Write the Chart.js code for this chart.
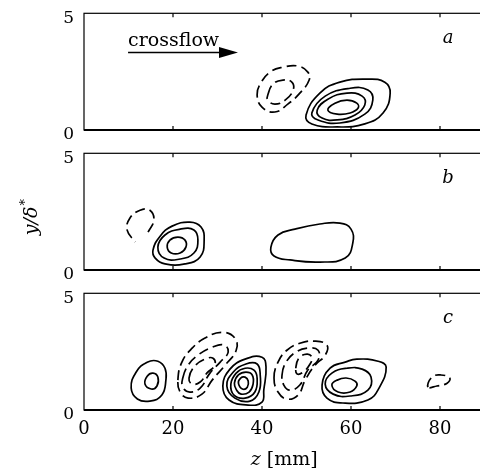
<!DOCTYPE html>
<html>
<head>
<meta charset="utf-8">
<script src="https://cdn.jsdelivr.net/npm/chart.js@4.4.0/dist/chart.umd.min.js"></script>
<style>
html,body{margin:0;padding:0;background:#fff;width:480px;height:475px;overflow:hidden;}
.panel{position:absolute;left:0;}
</style>
</head>
<body>
<div class="panel" style="top:0px"><canvas id="pa" width="500" height="140"></canvas></div>
<div class="panel" style="top:140px"><canvas id="pb" width="500" height="140"></canvas></div>
<div class="panel" style="top:280px"><canvas id="pc" width="500" height="195"></canvas></div>
<script>
// axes
const zTicks = [0, 20, 40, 60, 80];
const zRange = [0, 90];
const yRange = [0, 5];

// contours, [z mm, y/delta*]
// panel a
const aPos1 = [[49.9,0.64],[53.0,1.58],[57.5,2.05],[63.6,2.18],[67.6,2.05],[68.8,1.58],[67.2,0.73],[63.1,0.26],[56.9,0.13],[51.2,0.26]];
const aPos2 = [[51.2,0.73],[54.2,1.45],[59.8,1.79],[63.8,1.71],[64.9,1.28],[63.1,0.68],[57.5,0.30],[52.6,0.43]];
const aPos3 = [[52.4,0.85],[54.8,1.32],[59.1,1.58],[62.5,1.45],[63.1,1.07],[60.9,0.64],[56.9,0.43],[53.5,0.51]];
const aPos4 = [[54.8,0.85],[56.4,1.15],[59.1,1.28],[61.3,1.15],[61.6,0.94],[59.8,0.73],[56.9,0.68]];
const aNeg1 = [[38.9,1.50],[39.6,1.97],[41.8,2.48],[44.7,2.69],[48.1,2.74],[50.3,2.48],[50.6,2.14],[48.5,1.58],[45.8,1.11],[42.9,0.77],[40.0,0.98]];
const aNeg2 = [[41.3,1.50],[42.5,1.97],[44.7,2.14],[46.7,2.05],[47.0,1.71],[45.2,1.28],[42.9,1.11],[41.3,1.28]];
// panel b
const bPos1 = [[15.5,0.85],[17.1,1.45],[19.8,1.88],[23.8,2.05],[26.3,1.84],[27.0,1.28],[26.1,0.56],[22.7,0.26],[18.2,0.26],[16.0,0.51]];
const bPos2 = [[16.6,0.98],[18.2,1.50],[21.6,1.75],[24.7,1.71],[25.6,1.28],[24.7,0.73],[21.6,0.47],[18.0,0.51]];
const bPos3 = [[18.7,0.98],[19.3,1.28],[21.1,1.41],[22.7,1.28],[22.9,0.98],[21.6,0.73],[19.6,0.73]];
const bPos4 = [[42.0,0.98],[43.6,1.50],[47.4,1.75],[53.0,1.97],[57.5,2.01],[60.0,1.75],[60.4,1.15],[58.7,0.51],[53.0,0.34],[46.3,0.43],[42.7,0.60]];
const bNeg1 = [[14.4,1.62],[15.7,2.14],[14.8,2.56],[12.6,2.56],[10.3,2.22],[9.7,1.71],[11.5,1.20]];
// panel c
const cPos1 = [[10.6,0.94],[11.7,1.62],[14.2,2.05],[16.6,2.09],[18.2,1.79],[18.4,1.28],[17.5,0.64],[14.8,0.38],[12.0,0.47]];
const cPos2 = [[13.7,1.11],[14.2,1.45],[15.5,1.58],[16.6,1.41],[16.4,1.03],[15.1,0.90]];
const cPos3 = [[31.2,1.03],[32.8,1.75],[36.2,2.18],[40.0,2.26],[40.9,1.84],[40.4,0.85],[40.0,0.34],[36.9,0.21],[32.6,0.43]];
const cPos4 = [[32.1,1.03],[33.5,1.62],[36.4,1.97],[38.9,1.97],[39.6,1.50],[39.3,0.77],[37.3,0.38],[33.9,0.51]];
const cPos5 = [[33.0,1.11],[34.2,1.58],[36.2,1.79],[38.2,1.71],[38.9,1.37],[38.4,0.77],[36.2,0.51],[33.7,0.64]];
const cPos6 = [[33.8,1.15],[34.7,1.50],[36.4,1.62],[37.8,1.50],[38.0,1.11],[37.1,0.77],[35.3,0.68],[34.3,0.85]];
const cPos7 = [[34.7,1.15],[35.2,1.37],[36.2,1.41],[36.9,1.24],[36.7,0.98],[35.6,0.90]];
const cPos8 = [[53.5,1.07],[55.3,1.79],[58.7,2.05],[61.3,2.18],[66.1,2.09],[67.9,1.84],[66.3,0.94],[63.8,0.43],[58.2,0.30],[54.6,0.51]];
const cPos9 = [[54.2,1.11],[55.7,1.58],[59.1,1.79],[62.5,1.75],[64.5,1.41],[63.8,0.85],[59.8,0.60],[56.0,0.68]];
const cPos10 = [[55.7,1.07],[56.9,1.28],[58.9,1.37],[60.9,1.24],[61.3,1.03],[59.8,0.77],[57.1,0.77]];
const cNeg1 = [[21.1,1.28],[22.0,2.05],[24.3,2.65],[27.2,3.08],[31.0,3.33],[33.9,3.08],[34.2,2.56],[31.7,1.92],[28.8,1.28],[26.5,0.68],[23.4,0.51],[21.6,0.77]];
const cNeg2 = [[22.2,1.37],[23.4,1.92],[25.6,2.35],[28.8,2.69],[31.5,2.78],[32.4,2.48],[30.6,2.05],[28.3,1.58],[26.1,0.94],[23.8,0.77],[22.2,0.98]];
const cNeg3 = [[23.6,1.37],[24.9,1.88],[27.2,2.18],[29.0,2.22],[29.4,1.92],[27.6,1.58],[26.1,1.20],[24.3,1.11]];
const cNeg4 = [[42.7,1.37],[43.6,2.05],[45.6,2.56],[48.5,2.86],[51.9,2.95],[54.6,2.78],[54.2,2.35],[51.9,1.92],[49.7,1.28],[48.1,0.64],[45.6,0.47],[43.6,0.77]];
const cNeg5 = [[44.5,1.50],[45.4,2.05],[47.6,2.48],[50.3,2.65],[52.6,2.56],[52.6,2.14],[50.3,1.71],[48.5,1.07],[46.3,0.85],[44.9,1.07]];
const cNeg6 = [[47.6,1.79],[48.3,2.22],[50.1,2.39],[51.2,2.26],[50.8,1.97],[49.2,1.62],[47.9,1.54]];
const cNeg7 = [[77.3,0.98],[78.2,1.41],[80.2,1.50],[82.2,1.37],[81.6,1.15],[79.3,1.03]];

// text spots, data coords
const letterAt = [81.8, 3.92];
const flowText = [9.9, 3.6];
const flowFrom = [9.9, 3.32];
const flowTo = [34.6, 3.32];

Chart.defaults.font.family = "'DejaVu Serif', serif";
Chart.defaults.color = '#000';

const pts = arr => arr.map(p => ({x: p[0], y: p[1]}));
// closed loop: one extra point at each end so the join is smooth, those two segments hidden
const solid = (arr, open) => {
	const n = arr.length;
	const list = open ? arr : [arr[n - 1]].concat(arr, [arr[0], arr[1]]);
	return {
		data: pts(list),
		borderColor: '#000', borderWidth: 1.7, pointRadius: 0,
		tension: 0.45, showLine: true, fill: false,
		segment: open ? {} : {
			borderColor: c => (c.p0DataIndex === 0 || c.p0DataIndex === n + 1) ? 'rgba(0,0,0,0)' : '#000'
		}
	};
};
const dashed = (arr, open) => Object.assign(solid(arr, open), {borderDash: [10, 5]});

let noPad = s => { s.paddingTop = 0; s.paddingBottom = 0; s.paddingLeft = 0; s.paddingRight = 0; };

let frame = {
	id: 'frame',
	afterDraw(chart) {
		const {ctx, chartArea: a, scales: {x}} = chart;
		ctx.save();
		ctx.strokeStyle = '#000';
		ctx.lineWidth = 1.2;
		ctx.strokeRect(a.left, a.top, a.right - a.left, a.bottom - a.top);
		ctx.lineWidth = 2;
		ctx.beginPath();
		ctx.moveTo(a.left, a.bottom);
		ctx.lineTo(a.right, a.bottom);
		ctx.stroke();
		ctx.lineWidth = 1.2;
		zTicks.forEach(t => {
			if (t === zRange[0]) return;
			const px = x.getPixelForValue(t);
			ctx.beginPath();
			ctx.moveTo(px, a.top); ctx.lineTo(px, a.top + 4);
			ctx.moveTo(px, a.bottom); ctx.lineTo(px, a.bottom - 4);
			ctx.stroke();
		});
		ctx.restore();
	}
};

let annot = (id, letter, extra) => ({
	id: id,
	afterDraw(chart) {
		const {ctx, scales: {x, y}} = chart;
		ctx.save();
		ctx.fillStyle = '#000';
		ctx.strokeStyle = '#000';
		ctx.font = 'italic 18px "DejaVu Serif"';
		ctx.textAlign = 'center';
		ctx.textBaseline = 'middle';
		ctx.fillText(letter, x.getPixelForValue(letterAt[0]), y.getPixelForValue(letterAt[1]));
		if (extra) extra(ctx, x, y, chart);
		ctx.restore();
	}
});

let crossflow = (ctx, x, y) => {
	ctx.font = '19px "DejaVu Serif"';
	ctx.textAlign = 'left';
	ctx.textBaseline = 'alphabetic';
	ctx.fillText('crossflow', x.getPixelForValue(flowText[0]), y.getPixelForValue(flowText[1]));
	const x0 = x.getPixelForValue(flowFrom[0]);
	const x1 = x.getPixelForValue(flowTo[0]);
	const yy = y.getPixelForValue(flowFrom[1]);
	ctx.lineWidth = 1.6;
	ctx.beginPath();
	ctx.moveTo(x0, yy); ctx.lineTo(x1 - 16, yy);
	ctx.stroke();
	ctx.beginPath();
	ctx.moveTo(x1, yy); ctx.lineTo(x1 - 19, yy - 5.5); ctx.lineTo(x1 - 19, yy + 5.5);
	ctx.closePath();
	ctx.fill();
};

let yTitle = (ctx, x, y, chart) => {
	const a = chart.chartArea;
	ctx.translate(32, (a.top + a.bottom) / 2 + 6);
	ctx.rotate(-Math.PI / 2);
	ctx.textAlign = 'left';
	ctx.textBaseline = 'alphabetic';
	ctx.font = 'italic 19px "DejaVu Serif"';
	const w1 = ctx.measureText('y/δ').width;
	ctx.font = '13px "DejaVu Serif"';
	const w2 = ctx.measureText('*').width;
	const s = -(w1 + w2) / 2;
	ctx.font = 'italic 19px "DejaVu Serif"';
	ctx.fillText('y/δ', s, 5);
	ctx.font = '13px "DejaVu Serif"';
	ctx.fillText('*', s + w1 + 1, -3);
};

let xTitle = (ctx, x, y, chart) => {
	const a = chart.chartArea;
	const cx = (a.left + a.right) / 2;
	ctx.textAlign = 'left';
	ctx.textBaseline = 'middle';
	ctx.font = 'italic 19px "DejaVu Serif"';
	const w1 = ctx.measureText('z').width;
	ctx.font = '19px "DejaVu Serif"';
	const w2 = ctx.measureText(' [mm]').width;
	const s = cx - (w1 + w2) / 2;
	ctx.font = 'italic 19px "DejaVu Serif"';
	ctx.fillText('z', s, a.bottom + 50);
	ctx.font = '19px "DejaVu Serif"';
	ctx.fillText(' [mm]', s + w1, a.bottom + 50);
};

let makePanel = (id, sets, labels, plug) => {
	new Chart(document.getElementById(id), {
		type: 'scatter',
		data: {datasets: sets},
		options: {
			responsive: false,
			animation: false,
			events: [],
			layout: {padding: {top: 13.3, right: 15.5, bottom: labels ? 0 : 10, left: 0}},
			plugins: {legend: {display: false}, tooltip: {enabled: false}},
			scales: {
				x: {
					type: 'linear', min: zRange[0], max: zRange[1],
					grid: {display: false, drawTicks: false}, border: {display: false},
					afterBuildTicks: s => { s.ticks = zTicks.map(v => ({value: v})); },
					ticks: {display: labels, padding: 9, font: {size: 18}, color: '#000'},
					afterFit: s => { s.height = labels ? 65 : 0; noPad(s); }
				},
				y: {
					type: 'linear', min: yRange[0], max: yRange[1],
					grid: {display: false, drawTicks: false}, border: {display: false},
					afterBuildTicks: s => { s.ticks = yRange.map(v => ({value: v})); },
					ticks: {padding: 10, labelOffset: 5, font: {size: 17}, color: '#000'},
					afterFit: s => { s.width = 84; noPad(s); }
				}
			}
		},
		plugins: [frame, plug]
	});
};

makePanel('pa', [
	solid(aPos1), solid(aPos2), solid(aPos3), solid(aPos4),
	dashed(aNeg1), dashed(aNeg2)
], false, annot('annA', 'a', crossflow));

makePanel('pb', [
	solid(bPos1), solid(bPos2), solid(bPos3), solid(bPos4),
	dashed(bNeg1, true)
], false, annot('annB', 'b', yTitle));

makePanel('pc', [
	solid(cPos1), solid(cPos2), solid(cPos3), solid(cPos4), solid(cPos5),
	solid(cPos6), solid(cPos7), solid(cPos8), solid(cPos9), solid(cPos10),
	dashed(cNeg1), dashed(cNeg2), dashed(cNeg3), dashed(cNeg4), dashed(cNeg5),
	dashed(cNeg6), dashed(cNeg7)
], true, annot('annC', 'c', xTitle));
</script>
</body>
</html>
